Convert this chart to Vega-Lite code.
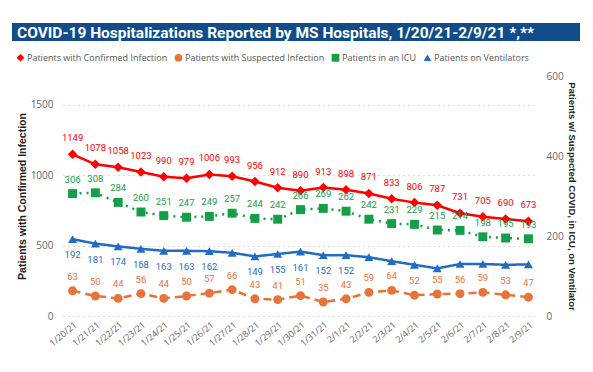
{
  "$schema": "https://vega.github.io/schema/vega-lite/v6.json",
  "padding": {"left": 12, "top": 23, "right": 0, "bottom": 0},
  "background": "white",
  "columns": 1,
  "spacing": 11,
  "config": {"view": {"stroke": null}},
  "resolve": {"legend": {"color": "independent", "shape": "independent"}},
  "datasets": {
    "hosp": [
      {"d": "1/20/21", "conf": 1149, "susp": 63, "icu": 306, "vent": 192},
      {"d": "1/21/21", "conf": 1078, "susp": 50, "icu": 308, "vent": 181},
      {"d": "1/22/21", "conf": 1058, "susp": 44, "icu": 284, "vent": 174},
      {"d": "1/23/21", "conf": 1023, "susp": 56, "icu": 260, "vent": 168},
      {"d": "1/24/21", "conf": 990, "susp": 44, "icu": 251, "vent": 163},
      {"d": "1/25/21", "conf": 979, "susp": 50, "icu": 247, "vent": 163},
      {"d": "1/26/21", "conf": 1006, "susp": 57, "icu": 249, "vent": 162},
      {"d": "1/27/21", "conf": 993, "susp": 66, "icu": 257, "vent": 158},
      {"d": "1/28/21", "conf": 956, "susp": 43, "icu": 244, "vent": 149},
      {"d": "1/29/21", "conf": 912, "susp": 41, "icu": 242, "vent": 155},
      {"d": "1/30/21", "conf": 890, "susp": 51, "icu": 266, "vent": 161},
      {"d": "1/31/21", "conf": 913, "susp": 35, "icu": 269, "vent": 152},
      {"d": "2/1/21", "conf": 898, "susp": 43, "icu": 262, "vent": 152},
      {"d": "2/2/21", "conf": 871, "susp": 59, "icu": 242, "vent": 147},
      {"d": "2/3/21", "conf": 833, "susp": 64, "icu": 231, "vent": 137},
      {"d": "2/4/21", "conf": 806, "susp": 52, "icu": 229, "vent": 128},
      {"d": "2/5/21", "conf": 787, "susp": 55, "icu": 215, "vent": 119},
      {"d": "2/6/21", "conf": 731, "susp": 56, "icu": 214, "vent": 130},
      {"d": "2/7/21", "conf": 705, "susp": 59, "icu": 198, "vent": 130},
      {"d": "2/8/21", "conf": 690, "susp": 53, "icu": 195, "vent": 128},
      {"d": "2/9/21", "conf": 673, "susp": 47, "icu": 193, "vent": 129}
    ]
  },
  "concat": [
    {
      "width": 475,
      "height": 18,
      "data": {"values": [{"t": "COVID-19 Hospitalizations Reported by MS Hospitals, 1/20/21-2/9/21 *,**"}]},
      "encoding": {
        "x": {"datum": 0, "type": "quantitative", "scale": {"domain": [0, 1], "range": [-51, 517]}, "axis": null}
      },
      "layer": [
        {"mark": {"type": "rect", "color": "#0f4c89"}, "encoding": {"x2": {"datum": 1}}},
        {
          "mark": {
            "type": "text",
            "align": "left",
            "baseline": "middle",
            "dx": 5,
            "dy": 1,
            "color": "white",
            "font": "Roboto, sans-serif",
            "fontSize": 15.5,
            "fontWeight": "bold"
          },
          "encoding": {"text": {"field": "t"}}
        }
      ]
    },
    {
      "width": 475,
      "height": 240,
      "data": {"name": "hosp"},
      "encoding": {
        "x": {
          "field": "d",
          "type": "ordinal",
          "sort": null,
          "scale": {"type": "point", "padding": 0.42},
          "axis": {
            "title": null,
            "labelAngle": -40,
            "labelFont": "Open Sans, sans-serif",
            "labelFontSize": 9,
            "labelColor": "#666666",
            "labelPadding": 4,
            "domain": false,
            "ticks": false,
            "grid": false
          }
        }
      },
      "layer": [
        {
          "transform": [
            {"fold": ["conf", "susp", "icu", "vent"], "as": ["s", "v"]},
            {"filter": "datum.s == 'conf'"}
          ],
          "encoding": {
            "y": {
              "field": "v",
              "type": "quantitative",
              "scale": {"domain": [0, 1706], "nice": false},
              "axis": {
                "title": "Patients with Confirmed Infection",
                "titleFont": "Liberation Sans, Arial, sans-serif",
                "titleFontSize": 10.5,
                "titleFontWeight": "bold",
                "titleColor": "#222222",
                "titlePadding": 3,
                "values": [0, 500, 1000, 1500],
                "format": "d",
                "grid": true,
                "gridDash": [1, 4],
                "gridColor": "#bbbbbb",
                "domain": false,
                "ticks": false,
                "labelFont": "Open Sans, sans-serif",
                "labelFontSize": 10,
                "labelColor": "#666666",
                "labelPadding": 10
              }
            },
            "color": {
              "field": "s",
              "type": "nominal",
              "scale": {
                "domain": ["conf", "susp", "icu", "vent"],
                "range": ["#ff0000", "#e8733a", "#149e48", "#1f6cc4"]
              },
              "legend": {
                "orient": "none",
                "legendX": -47,
                "legendY": -23,
                "direction": "horizontal",
                "title": null,
                "labelExpr": "{'conf':'Patients with Confirmed Infection','susp':'Patients with Suspected Infection','icu':'Patients in an ICU','vent':'Patients on Ventilators'}[datum.value]",
                "labelFont": "Open Sans, sans-serif",
                "labelFontSize": 9,
                "labelColor": "#555555",
                "labelOffset": 2,
                "columnPadding": 6,
                "symbolSize": 60,
                "symbolStrokeWidth": 0
              }
            }
          },
          "layer": [
            {"mark": {"type": "line", "strokeWidth": 2.5}},
            {
              "mark": {"type": "point", "filled": true, "opacity": 1, "size": 90},
              "encoding": {
                "shape": {
                  "field": "s",
                  "type": "nominal",
                  "scale": {
                    "domain": ["conf", "susp", "icu", "vent"],
                    "range": ["diamond", "circle", "square", "triangle-up"]
                  },
                  "legend": {
                    "orient": "none",
                    "legendX": -47,
                    "legendY": -23,
                    "direction": "horizontal",
                    "title": null,
                    "labelExpr": "{'conf':'Patients with Confirmed Infection','susp':'Patients with Suspected Infection','icu':'Patients in an ICU','vent':'Patients on Ventilators'}[datum.value]",
                    "labelFont": "Open Sans, sans-serif",
                    "labelFontSize": 9,
                    "labelColor": "#555555",
                    "labelOffset": 2,
                    "columnPadding": 6,
                    "symbolSize": 60,
                    "symbolStrokeWidth": 0
                  }
                }
              }
            },
            {
              "mark": {"type": "text", "dy": -16, "font": "Roboto, sans-serif", "fontSize": 9.5},
              "encoding": {"text": {"field": "v", "type": "quantitative"}}
            }
          ]
        },
        {
          "transform": [
            {"fold": ["conf", "susp", "icu", "vent"], "as": ["s", "v"]},
            {"filter": "datum.s != 'conf'"}
          ],
          "encoding": {
            "y": {
              "field": "v",
              "type": "quantitative",
              "scale": {"domain": [0, 600], "nice": false},
              "axis": {
                "orient": "right",
                "title": "Patients w/ Suspected COVID, in ICU, on Ventilator",
                "titleFont": "Liberation Sans, Arial, sans-serif",
                "titleFontSize": 9.5,
                "titleFontWeight": "bold",
                "titleColor": "#222222",
                "titlePadding": 3,
                "values": [0, 200, 400, 600],
                "grid": false,
                "domain": false,
                "ticks": false,
                "labelFont": "Open Sans, sans-serif",
                "labelFontSize": 10,
                "labelColor": "#666666",
                "labelPadding": 8
              }
            },
            "color": {"field": "s", "type": "nominal"}
          },
          "layer": [
            {
              "mark": {"type": "line", "strokeWidth": 2.5},
              "encoding": {
                "strokeDash": {
                  "field": "s",
                  "type": "nominal",
                  "scale": {"domain": ["susp", "icu", "vent"], "range": [[8, 5], [2, 5], [1, 0]]},
                  "legend": null
                }
              }
            },
            {
              "mark": {"type": "point", "filled": true, "opacity": 1, "size": 80},
              "encoding": {"shape": {"field": "s", "type": "nominal"}}
            },
            {
              "transform": [{"filter": "datum.s != 'vent'"}],
              "mark": {"type": "text", "dy": -14, "font": "Roboto, sans-serif", "fontSize": 9.5},
              "encoding": {"text": {"field": "v", "type": "quantitative"}}
            },
            {
              "transform": [{"filter": "datum.s == 'vent' && indexof(['1/27/21','2/2/21','2/3/21','2/4/21','2/5/21','2/6/21','2/7/21','2/8/21','2/9/21'], datum.d) < 0"}],
              "mark": {"type": "text", "dy": 16, "font": "Roboto, sans-serif", "fontSize": 9.5},
              "encoding": {"text": {"field": "v", "type": "quantitative"}}
            },
            {
              "data": {"values": [{}]},
              "mark": {"type": "text", "text": "* Patients in ICU and on ventilators are COVID-19 confirmed.", "align": "left", "dx": -8, "font": "Open Sans, sans-serif", "fontSize": 9, "color": "#666666"},
              "encoding": {"x": {"datum": "1/20/21"}, "y": {"datum": 595}}
            },
            {
              "data": {"values": [{}]},
              "mark": {"type": "text", "text": "** Data are provisional.", "align": "left", "dx": -14, "font": "Open Sans, sans-serif", "fontSize": 9, "color": "#666666"},
              "encoding": {"x": {"datum": "1/20/21"}, "y": {"datum": 567}}
            }
          ]
        }
      ],
      "resolve": {"scale": {"y": "independent"}}
    }
  ]
}
